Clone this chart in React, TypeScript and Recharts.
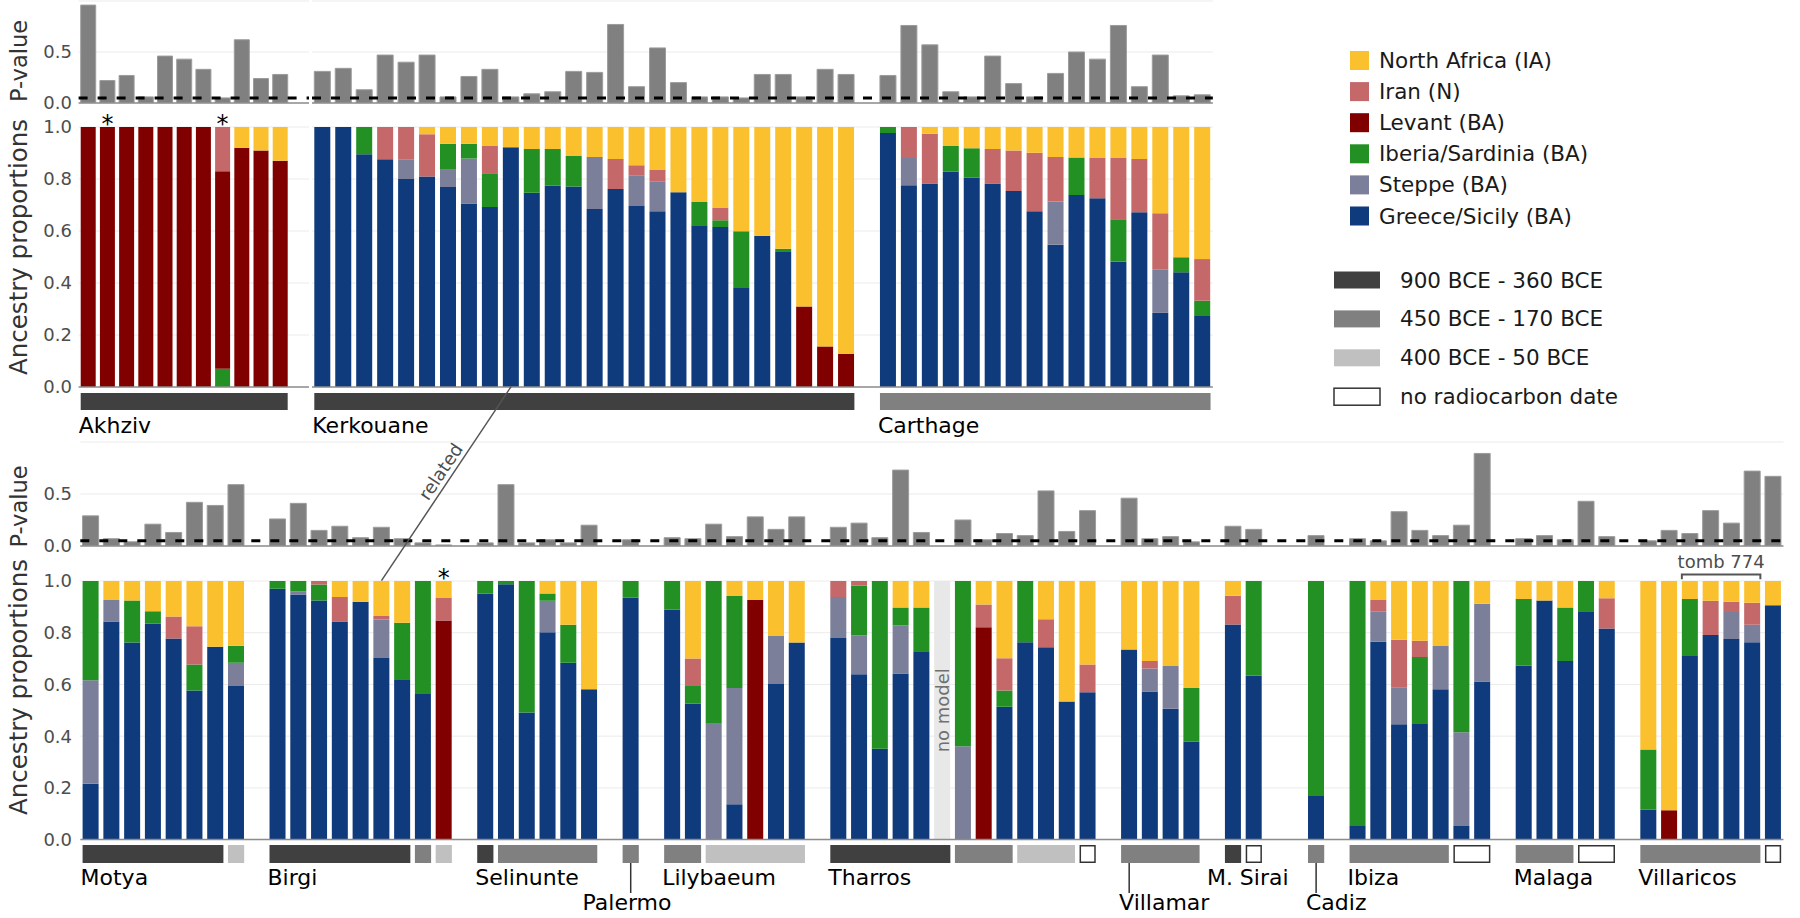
import React from "react";
import {
  Bar,
  BarChart,
  CartesianGrid,
  LabelList,
  ReferenceArea,
  ReferenceDot,
  ReferenceLine,
  XAxis,
  YAxis,
} from "recharts";

// [p-value, Greece/Sicily, Steppe, Iberia/Sardinia, Levant, Iran, North Africa]; null = no model
type Sample = number[] | null;
type Site = { name: string; samples: Sample[]; dates: [number, number][]; marked?: number[] };

const SOURCES = ["Greece/Sicily (BA)", "Steppe (BA)", "Iberia/Sardinia (BA)", "Levant (BA)", "Iran (N)", "North Africa (IA)"];
const SOURCE_KEYS = ["g", "st", "ib", "lv", "ir", "na"];
const PERIODS = ["900 BCE - 360 BCE", "450 BCE - 170 BCE", "400 BCE - 50 BCE", "no radiocarbon date"];
const P_TICKS = [0, 0.5];
const ANC_TICKS = [0, 0.2, 0.4, 0.6, 0.8, 1];
const P_THRESHOLD = 0.05;

const akhziv: Sample[] = [
  [0.96, 0, 0, 0, 1, 0, 0],
  [0.22, 0, 0, 0, 1, 0, 0],
  [0.27, 0, 0, 0, 1, 0, 0],
  [0.06, 0, 0, 0, 1, 0, 0],
  [0.46, 0, 0, 0, 1, 0, 0],
  [0.43, 0, 0, 0, 1, 0, 0],
  [0.33, 0, 0, 0, 1, 0, 0],
  [0.05, 0, 0, 0.07, 0.76, 0.17, 0],
  [0.62, 0, 0, 0, 0.92, 0, 0.08],
  [0.24, 0, 0, 0, 0.91, 0, 0.09],
  [0.28, 0, 0, 0, 0.87, 0, 0.13],
];

const kerkouane: Sample[] = [
  [0.31, 1, 0, 0, 0, 0, 0],
  [0.34, 1, 0, 0, 0, 0, 0],
  [0.13, 0.895, 0, 0.105, 0, 0, 0],
  [0.47, 0.876, 0, 0, 0, 0.124, 0],
  [0.4, 0.8, 0.076, 0, 0, 0.124, 0],
  [0.47, 0.81, 0, 0, 0, 0.162, 0.028],
  [0.06, 0.769, 0.067, 0.1, 0, 0, 0.064],
  [0.26, 0.706, 0.173, 0.057, 0, 0, 0.064],
  [0.33, 0.692, 0, 0.13, 0, 0.105, 0.073],
  [0.06, 0.922, 0, 0, 0, 0, 0.078],
  [0.09, 0.747, 0, 0.168, 0, 0, 0.085],
  [0.11, 0.774, 0, 0.141, 0, 0, 0.085],
  [0.31, 0.771, 0, 0.117, 0, 0, 0.112],
  [0.3, 0.685, 0.2, 0, 0, 0, 0.115],
  [0.77, 0.762, 0, 0, 0, 0.115, 0.123],
  [0.16, 0.696, 0.118, 0, 0, 0.039, 0.147],
  [0.54, 0.676, 0.115, 0, 0, 0.046, 0.163],
  [0.2, 0.749, 0, 0, 0, 0, 0.251],
  [0.06, 0.622, 0, 0.09, 0, 0, 0.288],
  [0.06, 0.615, 0, 0.026, 0, 0.049, 0.31],
  [0.05, 0.381, 0, 0.218, 0, 0, 0.401],
  [0.28, 0.582, 0, 0, 0, 0, 0.418],
  [0.28, 0.522, 0, 0.01, 0, 0, 0.468],
  [0.06, 0, 0, 0, 0.31, 0, 0.69],
  [0.33, 0, 0, 0, 0.156, 0, 0.844],
  [0.28, 0, 0, 0, 0.128, 0, 0.872],
];

const carthage: Sample[] = [
  [0.27, 0.977, 0, 0.023, 0, 0, 0],
  [0.76, 0.776, 0.105, 0, 0, 0.119, 0],
  [0.57, 0.783, 0, 0, 0, 0.191, 0.026],
  [0.11, 0.829, 0, 0.098, 0, 0, 0.073],
  [0.06, 0.806, 0, 0.112, 0, 0, 0.082],
  [0.46, 0.783, 0, 0, 0, 0.132, 0.085],
  [0.19, 0.754, 0, 0, 0, 0.156, 0.09],
  [0.06, 0.676, 0, 0, 0, 0.225, 0.099],
  [0.29, 0.547, 0.166, 0, 0, 0.172, 0.115],
  [0.5, 0.738, 0, 0.145, 0, 0, 0.117],
  [0.43, 0.726, 0, 0, 0, 0.155, 0.119],
  [0.76, 0.483, 0, 0.162, 0, 0.236, 0.119],
  [0.16, 0.672, 0, 0, 0, 0.205, 0.123],
  [0.47, 0.285, 0.166, 0, 0, 0.217, 0.332],
  [0.07, 0.441, 0, 0.058, 0, 0, 0.501],
  [0.08, 0.273, 0, 0.059, 0, 0.16, 0.508],
];

const motya: Sample[] = [
  [0.29, 0.216, 0.4, 0.384, 0, 0, 0],
  [0.07, 0.843, 0.084, 0, 0, 0, 0.073],
  [0.04, 0.762, 0, 0.163, 0, 0, 0.075],
  [0.21, 0.835, 0, 0.048, 0, 0, 0.117],
  [0.13, 0.778, 0, 0, 0, 0.085, 0.137],
  [0.42, 0.577, 0, 0.1, 0, 0.148, 0.175],
  [0.39, 0.746, 0, 0, 0, 0, 0.254],
  [0.59, 0.594, 0.09, 0.066, 0, 0, 0.25],
];

const birgi: Sample[] = [
  [0.26, 0.97, 0, 0.03, 0, 0, 0],
  [0.41, 0.948, 0.012, 0.04, 0, 0, 0],
  [0.15, 0.925, 0, 0.061, 0, 0.014, 0],
  [0.19, 0.843, 0, 0, 0, 0.095, 0.062],
  [0.08, 0.92, 0, 0, 0, 0, 0.08],
  [0.18, 0.702, 0.149, 0, 0, 0.014, 0.135],
  [0.07, 0.62, 0, 0.219, 0, 0, 0.161],
  [0.03, 0.563, 0, 0.437, 0, 0, 0],
  [0.01, 0, 0, 0, 0.847, 0.089, 0.064],
];

const selinunte: Sample[] = [
  [0.03, 0.952, 0, 0.048, 0, 0, 0],
  [0.59, 0.987, 0, 0.013, 0, 0, 0],
  [0.03, 0.491, 0, 0.509, 0, 0, 0],
  [0.06, 0.802, 0.122, 0.028, 0, 0, 0.048],
  [0.03, 0.684, 0, 0.147, 0, 0, 0.169],
  [0.2, 0.581, 0, 0, 0, 0, 0.419],
];

const palermo: Sample[] = [[0.06, 0.936, 0, 0.064, 0, 0, 0]];

const lilybaeum: Sample[] = [
  [0.08, 0.89, 0, 0.11, 0, 0, 0],
  [0.07, 0.526, 0, 0.068, 0, 0.106, 0.3],
  [0.21, 0, 0.448, 0.552, 0, 0, 0],
  [0.09, 0.137, 0.449, 0.356, 0, 0, 0.058],
  [0.28, 0, 0, 0, 0.927, 0, 0.073],
  [0.16, 0.602, 0.185, 0, 0, 0, 0.213],
  [0.28, 0.762, 0, 0, 0, 0, 0.238],
];

const tharros: Sample[] = [
  [0.18, 0.78, 0.158, 0, 0, 0.062, 0],
  [0.22, 0.639, 0.15, 0.194, 0, 0.017, 0],
  [0.08, 0.351, 0, 0.649, 0, 0, 0],
  [0.73, 0.642, 0.187, 0.069, 0, 0, 0.102],
  [0.13, 0.728, 0, 0.17, 0, 0, 0.102],
  null,
  [0.25, 0, 0.361, 0.639, 0, 0, 0],
  [0.06, 0, 0, 0, 0.821, 0.088, 0.091],
  [0.12, 0.514, 0, 0.063, 0, 0.124, 0.299],
  [0.1, 0.763, 0, 0.237, 0, 0, 0],
  [0.53, 0.744, 0, 0, 0, 0.108, 0.148],
  [0.14, 0.534, 0, 0, 0, 0, 0.466],
  [0.34, 0.57, 0, 0, 0, 0.107, 0.323],
];

const villamar: Sample[] = [
  [0.46, 0.735, 0, 0, 0, 0, 0.265],
  [0.07, 0.573, 0.089, 0, 0, 0.029, 0.309],
  [0.09, 0.506, 0.165, 0, 0, 0, 0.329],
  [0.04, 0.378, 0, 0.208, 0, 0, 0.414],
];

const monteSirai: Sample[] = [
  [0.19, 0.832, 0, 0, 0, 0.111, 0.057],
  [0.16, 0.635, 0, 0.365, 0, 0, 0],
];

const cadiz: Sample[] = [[0.1, 0.169, 0, 0.831, 0, 0, 0]];

const ibiza: Sample[] = [
  [0.07, 0.053, 0, 0.947, 0, 0, 0],
  [0.05, 0.765, 0.116, 0, 0, 0.046, 0.073],
  [0.33, 0.446, 0.143, 0, 0, 0.184, 0.227],
  [0.15, 0.45, 0, 0.256, 0, 0.063, 0.231],
  [0.1, 0.581, 0.168, 0, 0, 0, 0.251],
  [0.2, 0.053, 0.362, 0.585, 0, 0, 0],
  [0.89, 0.611, 0.301, 0, 0, 0, 0.088],
];

const malaga: Sample[] = [
  [0.07, 0.673, 0, 0.257, 0, 0, 0.07],
  [0.1, 0.925, 0, 0, 0, 0, 0.075],
  [0.06, 0.691, 0, 0.207, 0, 0, 0.102],
  [0.43, 0.883, 0, 0.117, 0, 0, 0],
  [0.09, 0.816, 0, 0, 0, 0.117, 0.067],
];

const villaricos: Sample[] = [
  [0.05, 0.115, 0, 0.233, 0, 0, 0.652],
  [0.15, 0, 0, 0, 0.113, 0, 0.887],
  [0.12, 0.71, 0, 0.22, 0, 0, 0.07],
  [0.34, 0.791, 0, 0, 0, 0.133, 0.076],
  [0.22, 0.776, 0.104, 0, 0, 0.04, 0.08],
  [0.72, 0.763, 0.068, 0, 0, 0.085, 0.084],
  [0.67, 0.906, 0, 0, 0, 0, 0.094],
];

// date runs: [period index, number of samples]
const AKHZIV: Site = { name: "Akhziv", samples: akhziv, dates: [[0, 11]], marked: [1, 7] };
const KERKOUANE: Site = { name: "Kerkouane", samples: kerkouane, dates: [[0, 26]] };
const CARTHAGE: Site = { name: "Carthage", samples: carthage, dates: [[1, 16]] };

const BOTTOM_SITES: Site[] = [
  { name: "Motya", samples: motya, dates: [[0, 7], [2, 1]] },
  { name: "Birgi", samples: birgi, dates: [[0, 7], [1, 1], [2, 1]], marked: [8] },
  { name: "Selinunte", samples: selinunte, dates: [[0, 1], [1, 5]] },
  { name: "Palermo", samples: palermo, dates: [[1, 1]] },
  { name: "Lilybaeum", samples: lilybaeum, dates: [[1, 2], [2, 5]] },
  { name: "Tharros", samples: tharros, dates: [[0, 6], [1, 3], [2, 3], [3, 1]] },
  { name: "Villamar", samples: villamar, dates: [[1, 4]] },
  { name: "M. Sirai", samples: monteSirai, dates: [[0, 1], [3, 1]] },
  { name: "Cadiz", samples: cadiz, dates: [[1, 1]] },
  { name: "Ibiza", samples: ibiza, dates: [[1, 5], [3, 2]] },
  { name: "Malaga", samples: malaga, dates: [[1, 3], [3, 2]] },
  { name: "Villaricos", samples: villaricos, dates: [[1, 6], [3, 1]] },
];

const TOMB = { from: "Villaricos 3", to: "Villaricos 6", text: "tomb 774" };
const RELATED = { top: "Kerkouane 10", bottom: "Birgi 6", text: "related" };

// ---- styling / layout ----
const FONT = "'DejaVu Sans', Verdana, sans-serif";
const SOURCE_COLORS = ["#0f3a7c", "#7b7f9a", "#229022", "#800000", "#c4686a", "#fbc02d"];
const PERIOD_FILLS = ["#404040", "#808080", "#c0c0c0", "#ffffff"];
const LABEL_STYLE: Record<string, { dx?: number; low?: boolean }> = {
  Palermo: { dx: -40, low: true },
  Villamar: { low: true },
  Cadiz: { low: true },
  "M. Sirai": { dx: -18 },
};
const GAP = 0.11;
const RIGHT = 10;
const TICK_END = 72;
const BELOW = 12; // room under the plot for the "0.0" tick text

type RowY = { pTop: number; pBottom: number; aTop: number; aBottom: number; sTop: number; sBottom: number };
const TOP_Y: RowY = { pTop: 1, pBottom: 103, aTop: 126.7, aBottom: 386.7, sTop: 393, sBottom: 410 };
const BOTTOM_Y: RowY = { pTop: 442, pBottom: 546, aTop: 580.7, aBottom: 839.3, sTop: 845, sBottom: 863 };

type Slot = { key: string; p: number | null; g: number; st: number; ib: number; lv: number; ir: number; na: number; nm: number };

const blankSlot = (key: string): Slot => ({ key, p: null, g: 0, st: 0, ib: 0, lv: 0, ir: 0, na: 0, nm: 0 });

function buildPanel(sites: Site[], gaps: number[], trail = 0) {
  const slots: Slot[] = [];
  const runs: { period: number; from: string; to: string }[] = [];
  const groups: { name: string; from: string; to: string }[] = [];
  const stars: string[] = [];
  sites.forEach((site, si) => {
    for (let k = 0; k < gaps[si]; k++) slots.push(blankSlot(`gap-${site.name}-${k}`));
    const start = slots.length;
    site.samples.forEach((s, i) => {
      const key = `${site.name} ${i + 1}`;
      if (!s) {
        slots.push({ ...blankSlot(key), nm: 1 });
        return;
      }
      const [p, g, st, ib, lv, ir, na] = s;
      slots.push({ key, p, g, st, ib, lv, ir, na, nm: 0 });
    });
    let c = start;
    site.dates.forEach(([period, n]) => {
      runs.push({ period, from: slots[c].key, to: slots[c + n - 1].key });
      c += n;
    });
    groups.push({ name: site.name, from: slots[start].key, to: slots[slots.length - 1].key });
    (site.marked ?? []).forEach((i) => stars.push(slots[start + i].key));
  });
  for (let k = 0; k < trail; k++) slots.push(blankSlot(`trail-${k}`));
  return { slots, runs, groups, stars };
}

type Built = ReturnType<typeof buildPanel>;
type Panel = { data: Built; left: number; pitch: number; axis: boolean };

const TOP_PANELS: Panel[] = [
  { data: buildPanel([AKHZIV], [0], 1), left: 78.6, pitch: 19.2, axis: true },
  { data: buildPanel([KERKOUANE, CARTHAGE], [0, 1]), left: 312, pitch: 20.95, axis: false },
];
const BOTTOM_PANELS: Panel[] = [
  { data: buildPanel(BOTTOM_SITES, [0, 1, 1, 1, 1, 1, 1, 1, 2, 1, 1, 1]), left: 80.3, pitch: 20.77, axis: true },
];

const tickStyle = { fill: "#4d4d4d", fontSize: 18, fontFamily: FONT };
const fmt = (v: number) => v.toFixed(1);

const StarLabel = (props: any) => {
  const vb = props.viewBox ?? {};
  const x = (vb.x ?? 0) + (vb.width ?? 0) / 2;
  return (
    <text x={x} y={(vb.y ?? 0) + 5} textAnchor="middle" fontSize={24} fontFamily={FONT} fill="#000">
      *
    </text>
  );
};

const NoModelLabel = (props: any) => {
  if (!props.value) return null;
  const vb = props.viewBox ?? props;
  const h = Math.abs(vb.height);
  const top = vb.height < 0 ? vb.y + vb.height : vb.y;
  const cx = vb.x + vb.width / 2;
  const cy = top + h / 2;
  return (
    <text x={cx} y={cy} transform={`rotate(-90 ${cx} ${cy})`} textAnchor="middle" dominantBaseline="central" fontSize={18} fontFamily={FONT} fill="#707070">
      no model
    </text>
  );
};

function PanelCharts({ panel, ys, tomb }: { panel: Panel; ys: RowY; tomb?: typeof TOMB }) {
  const { data, left, pitch, axis } = panel;
  const width = left + data.slots.length * pitch + RIGHT;
  const inset = pitch * GAP;
  const pPad = 2;
  const aPad = 34;
  const labelSpace = 55;
  const pH = ys.pBottom - ys.pTop;
  const aH = ys.aBottom - ys.aTop;
  const sH = ys.sBottom - ys.sTop;
  const gap = `${GAP * 100}%`;
  const mLeft = axis ? 0 : left;

  const yAxis = (ticks: number[]) =>
    axis ? (
      <YAxis width={left} domain={[0, 1]} allowDataOverflow interval={0} ticks={ticks} tickFormatter={fmt} tickLine={false} axisLine={false} tickSize={0} tickMargin={left - TICK_END} tick={tickStyle} />
    ) : (
      <YAxis hide domain={[0, 1]} allowDataOverflow ticks={ticks} />
    );

  return (
    <>
      <div style={{ position: "absolute", left: 0, top: ys.pTop - pPad }}>
        <BarChart width={width} height={pPad + pH + 2 + BELOW} data={data.slots} margin={{ top: pPad, right: RIGHT, bottom: BELOW, left: mLeft }} barCategoryGap={gap}>
          <CartesianGrid vertical={false} stroke="#ebebeb" />
          <XAxis dataKey="key" tick={false} tickLine={false} height={2} axisLine={{ stroke: "#8c8c8c", strokeWidth: 1.5 }} />
          {yAxis(P_TICKS)}
          <Bar dataKey="p" fill="#808080" stroke="#9c9c9c" strokeWidth={1} isAnimationActive={false} />
          <ReferenceLine y={P_THRESHOLD} stroke="#000" strokeWidth={3} strokeDasharray="9 10" />
        </BarChart>
      </div>

      <div style={{ position: "absolute", left: 0, top: ys.aTop - aPad }}>
        <BarChart width={width} height={aPad + aH + 2 + BELOW} data={data.slots} margin={{ top: aPad, right: RIGHT, bottom: BELOW, left: mLeft }} barCategoryGap={gap} barGap={0}>
          <CartesianGrid vertical={false} stroke="#ebebeb" />
          <XAxis dataKey="key" tick={false} tickLine={false} height={2} axisLine={{ stroke: "#8c8c8c", strokeWidth: 1.5 }} />
          {yAxis(ANC_TICKS)}
          {SOURCE_KEYS.map((k, i) => (
            <Bar key={k} dataKey={k} name={SOURCES[i]} stackId="a" fill={SOURCE_COLORS[i]} isAnimationActive={false} />
          ))}
          <Bar dataKey="nm" stackId="a" fill="#e8e8e8" isAnimationActive={false}>
            <LabelList dataKey="nm" content={NoModelLabel} />
          </Bar>
          {data.stars.map((k) => (
            <ReferenceDot key={k} x={k} y={1} r={0} ifOverflow="visible" label={StarLabel} />
          ))}
          {tomb && (
            <ReferenceArea
              x1={tomb.from}
              x2={tomb.to}
              y1={1.007}
              y2={1.025}
              ifOverflow="visible"
              shape={(p: any) => {
                const x1 = p.x + inset;
                const x2 = p.x + p.width - inset;
                return (
                  <g>
                    <path d={`M${x1},${p.y + p.height} V${p.y} H${x2} V${p.y + p.height}`} fill="none" stroke="#555" strokeWidth={2} />
                    <text x={(x1 + x2) / 2} y={p.y - 7} textAnchor="middle" fontSize={18} fontFamily={FONT} fill="#4d4d4d">
                      {tomb.text}
                    </text>
                  </g>
                );
              }}
            />
          )}
        </BarChart>
      </div>

      <div style={{ position: "absolute", left: 0, top: ys.sTop }}>
        <BarChart width={width} height={sH + labelSpace} data={data.slots} margin={{ top: 0, right: RIGHT, bottom: labelSpace, left }} barCategoryGap={gap}>
          <XAxis dataKey="key" hide />
          <YAxis hide type="number" domain={[0, 1]} allowDataOverflow />
          <Bar dataKey="p" fill="none" stroke="none" isAnimationActive={false} />
          {data.runs.map((r, i) => (
            <ReferenceArea
              key={`run-${i}`}
              x1={r.from}
              x2={r.to}
              y1={0}
              y2={1}
              ifOverflow="visible"
              shape={(p: any) => {
                const none = r.period === 3;
                const e = none ? 0.75 : 0;
                return (
                  <rect x={p.x + inset + e} y={p.y + e} width={p.width - 2 * inset - 2 * e} height={p.height - 2 * e} fill={PERIOD_FILLS[r.period]} stroke={none ? "#333" : "none"} strokeWidth={1.5} />
                );
              }}
            />
          ))}
          {data.groups.map((g) => {
            const st = LABEL_STYLE[g.name] ?? {};
            return (
              <ReferenceArea
                key={`grp-${g.name}`}
                x1={g.from}
                x2={g.to}
                y1={0}
                y2={1}
                ifOverflow="visible"
                shape={(p: any) => {
                  const tx = p.x + inset + (st.dx ?? -2);
                  const bottom = p.y + p.height;
                  if (st.low) {
                    const cx = p.x + pitch / 2;
                    return (
                      <g>
                        <line x1={cx} x2={cx} y1={bottom} y2={bottom + 30} stroke="#333" strokeWidth={1.5} />
                        <text x={tx} y={bottom + 47} fontSize={22} fontFamily={FONT} fill="#000">
                          {g.name}
                        </text>
                      </g>
                    );
                  }
                  return (
                    <text x={tx} y={p.y + 40} fontSize={22} fontFamily={FONT} fill="#000">
                      {g.name}
                    </text>
                  );
                }}
              />
            );
          })}
        </BarChart>
      </div>
    </>
  );
}

const slotCenter = (panels: Panel[], key: string) => {
  for (const pn of panels) {
    const i = pn.data.slots.findIndex((s) => s.key === key);
    if (i >= 0) return pn.left + (i + 0.5) * pn.pitch;
  }
  return 0;
};

function Overlay() {
  const ax = slotCenter(TOP_PANELS, RELATED.top);
  const ay = TOP_Y.aBottom;
  const bx = slotCenter(BOTTOM_PANELS, RELATED.bottom);
  const by = BOTTOM_Y.aTop;
  const t = 0.47;
  const mx = ax + (bx - ax) * t;
  const my = ay + (by - ay) * t;
  const angle = (Math.atan2(ay - by, ax - bx) * 180) / Math.PI;

  const titles = [
    { text: "P-value", y: 61, size: 22.5 },
    { text: "Ancestry proportions", y: 247, size: 24.5 },
    { text: "P-value", y: 506.5, size: 22.5 },
    { text: "Ancestry proportions", y: 687, size: 24.5 },
  ];
  const legendSources = [...SOURCES].reverse();
  const legendColors = [...SOURCE_COLORS].reverse();

  return (
    <svg width={1800} height={918} style={{ position: "absolute", left: 0, top: 0, pointerEvents: "none" }}>
      {titles.map((tt, i) => (
        <text key={i} x={27} y={tt.y} transform={`rotate(-90 27 ${tt.y})`} textAnchor="middle" fontSize={tt.size} fontFamily={FONT} fill="#333">
          {tt.text}
        </text>
      ))}
      <line x1={ax} y1={ay} x2={bx} y2={by} stroke="#555" strokeWidth={1.5} />
      <text x={mx} y={my} dy={-5} transform={`rotate(${angle} ${mx} ${my})`} textAnchor="middle" fontSize={18} fontFamily={FONT} fill="#4d4d4d">
        {RELATED.text}
      </text>
      {legendSources.map((name, i) => {
        const cy = 60.5 + i * 31.1;
        return (
          <g key={name}>
            <rect x={1350} y={cy - 9.5} width={19} height={19} fill={legendColors[i]} />
            <text x={1379} y={cy} dominantBaseline="central" fontSize={21.5} fontFamily={FONT} fill="#1a1a1a">
              {name}
            </text>
          </g>
        );
      })}
      {PERIODS.map((name, i) => {
        const cy = 280 + i * 38.9;
        const none = i === 3;
        return (
          <g key={name}>
            <rect x={1334} y={cy - 8.5} width={46} height={17} fill={PERIOD_FILLS[i]} stroke={none ? "#333" : "none"} strokeWidth={1.5} />
            <text x={1400} y={cy} dominantBaseline="central" fontSize={21.5} fontFamily={FONT} fill="#1a1a1a">
              {name}
            </text>
          </g>
        );
      })}
    </svg>
  );
}

export default function App() {
  return (
    <div style={{ position: "absolute", left: 0, top: 0, width: 1800, height: 918, fontFamily: FONT, background: "#fff", overflow: "hidden" }}>
      <style>{"body{margin:0;overflow:hidden}"}</style>
      {TOP_PANELS.map((pn, i) => (
        <PanelCharts key={`top-${i}`} panel={pn} ys={TOP_Y} />
      ))}
      {BOTTOM_PANELS.map((pn, i) => (
        <PanelCharts key={`bottom-${i}`} panel={pn} ys={BOTTOM_Y} tomb={TOMB} />
      ))}
      <Overlay />
    </div>
  );
}
